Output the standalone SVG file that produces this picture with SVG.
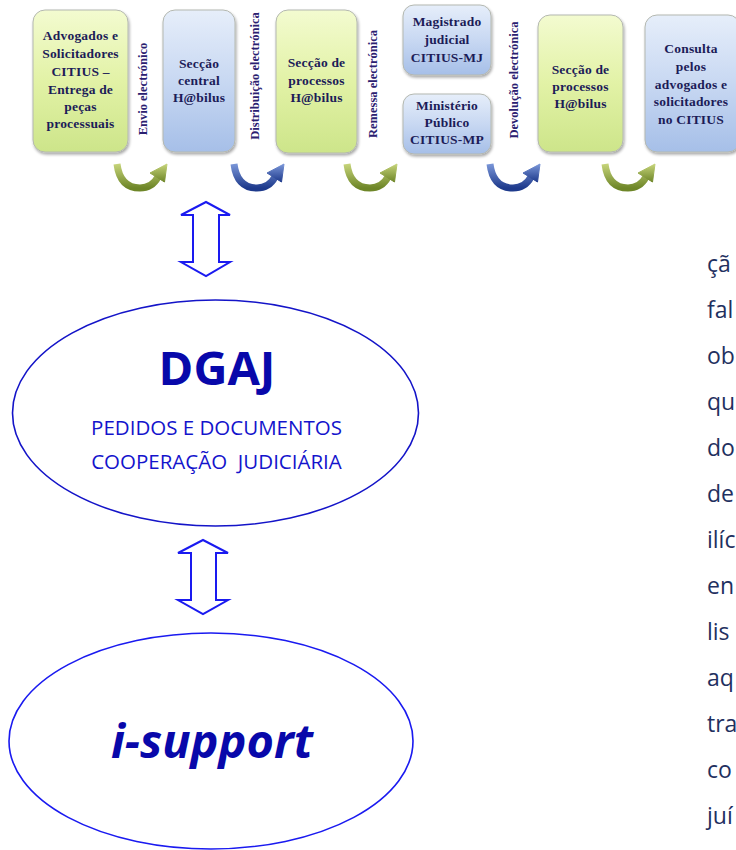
<svg xmlns="http://www.w3.org/2000/svg" width="736" height="850" viewBox="0 0 736 850">
<defs>
  <linearGradient id="gGreen" x1="0" y1="0" x2="0" y2="1">
    <stop offset="0" stop-color="#f3fbd0"/>
    <stop offset="0.5" stop-color="#e2f2a6"/>
    <stop offset="1" stop-color="#cde58a"/>
  </linearGradient>
  <linearGradient id="gBlue" x1="0" y1="0" x2="0" y2="1">
    <stop offset="0" stop-color="#e6eefa"/>
    <stop offset="0.5" stop-color="#c8d8f2"/>
    <stop offset="1" stop-color="#a6bfe8"/>
  </linearGradient>
  <linearGradient id="aGreen" x1="0" y1="0" x2="0" y2="1">
    <stop offset="0" stop-color="#c6d47a"/>
    <stop offset="1" stop-color="#6e8628"/>
  </linearGradient>
  <linearGradient id="aBlue" x1="0" y1="0" x2="0" y2="1">
    <stop offset="0" stop-color="#7a96d8"/>
    <stop offset="1" stop-color="#1e3a8c"/>
  </linearGradient>
  <filter id="sh" x="-20%" y="-20%" width="140%" height="140%">
    <feGaussianBlur in="SourceAlpha" stdDeviation="1.5"/>
    <feOffset dx="1" dy="2" result="o"/>
    <feComponentTransfer><feFuncA type="linear" slope="0.35"/></feComponentTransfer>
    <feMerge><feMergeNode/><feMergeNode in="SourceGraphic"/></feMerge>
  </filter>
  <g id="curv">
    <path d="M2,1 Q5,25 25,25 Q37,25 43,14" fill="none" stroke-width="7" stroke-linecap="butt"/>
    <polygon points="52,1 49.5,19 35,10"/>
  </g>
</defs>
<style>
  .box { stroke: #b4b8b0; stroke-width: 1; filter: url(#sh); }
  .bt { font-family: "Liberation Serif", "DejaVu Serif", serif; font-weight: bold; font-size: 13.5px; fill: #1c1c58; text-anchor: middle; letter-spacing: 0.2px; }
  .vt { font-family: "Liberation Serif", "DejaVu Serif", serif; font-weight: bold; font-size: 12.5px; fill: #2a2070; text-anchor: middle; }
  .ell { fill: #ffffff; stroke: #1414c8; stroke-width: 1.6; }
  .dbl { fill: #ffffff; stroke: #1a1af0; stroke-width: 2; stroke-linejoin: miter; }
  .side { font-family: "Open Sans", "Noto Sans", sans-serif; font-size: 23px; fill: #1f3060; }
  .sub { font-family: "Open Sans", "Noto Sans", sans-serif; font-size: 20.5px; fill: #1414cc; text-anchor: middle; }
</style>

<g id="box-advogados">
  <rect class="box" x="33" y="10" width="95" height="142" rx="12" fill="url(#gGreen)"/>
  <text class="bt" x="80.5" y="40">Advogados e</text>
  <text class="bt" x="80.5" y="58">Solicitadores</text>
  <text class="bt" x="80.5" y="76">CITIUS –</text>
  <text class="bt" x="80.5" y="94">Entrega de</text>
  <text class="bt" x="80.5" y="111">peças</text>
  <text class="bt" x="80.5" y="128">processuais</text>
</g>
<g id="box-seccao-central">
  <rect class="box" x="163" y="10" width="72" height="142" rx="12" fill="url(#gBlue)"/>
  <text class="bt" x="199" y="68">Secção</text>
  <text class="bt" x="199" y="85">central</text>
  <text class="bt" x="199" y="102">H@bilus</text>
</g>
<g id="box-seccao-processos-1">
  <rect class="box" x="276" y="10" width="81" height="143" rx="12" fill="url(#gGreen)"/>
  <text class="bt" x="316.5" y="67">Secção de</text>
  <text class="bt" x="316.5" y="85">processos</text>
  <text class="bt" x="316.5" y="102">H@bilus</text>
</g>
<g id="box-magistrado">
  <rect class="box" x="403" y="5" width="88" height="70" rx="11" fill="url(#gBlue)"/>
  <text class="bt" x="447" y="26">Magistrado</text>
  <text class="bt" x="447" y="44">judicial</text>
  <text class="bt" x="447" y="62">CITIUS-MJ</text>
</g>
<g id="box-ministerio">
  <rect class="box" x="403" y="94" width="88" height="60" rx="11" fill="url(#gBlue)"/>
  <text class="bt" x="447" y="110">Ministério</text>
  <text class="bt" x="447" y="127">Público</text>
  <text class="bt" x="447" y="144">CITIUS-MP</text>
</g>
<g id="box-seccao-processos-2">
  <rect class="box" x="538" y="15" width="85" height="137" rx="12" fill="url(#gGreen)"/>
  <text class="bt" x="580.5" y="74">Secção de</text>
  <text class="bt" x="580.5" y="91">processos</text>
  <text class="bt" x="580.5" y="108">H@bilus</text>
</g>
<g id="box-consulta">
  <rect class="box" x="645" y="15" width="95" height="137" rx="12" fill="url(#gBlue)"/>
  <text class="bt" x="691" y="53">Consulta</text>
  <text class="bt" x="691" y="71">pelos</text>
  <text class="bt" x="691" y="89">advogados e</text>
  <text class="bt" x="691" y="106">solicitadores</text>
  <text class="bt" x="691" y="124">no CITIUS</text>
</g>

<g id="connectors">
  <text class="vt" transform="translate(147,89) rotate(-90)">Envio electrónico</text>
  <text class="vt" transform="translate(259,76) rotate(-90)">Distribuição electrónica</text>
  <text class="vt" transform="translate(377,84) rotate(-90)">Remessa electrónica</text>
  <text class="vt" transform="translate(518,80) rotate(-90)">Devolução electrónica</text>

  <use href="#curv" x="115" y="163" fill="url(#aGreen)" stroke="url(#aGreen)"/>
  <use href="#curv" x="232" y="163" fill="url(#aBlue)" stroke="url(#aBlue)"/>
  <use href="#curv" x="345" y="163" fill="url(#aGreen)" stroke="url(#aGreen)"/>
  <use href="#curv" x="488" y="163" fill="url(#aBlue)" stroke="url(#aBlue)"/>
  <use href="#curv" x="603" y="163" fill="url(#aGreen)" stroke="url(#aGreen)"/>

  <polygon class="dbl" points="206,202 230,215 219,215 219,262 230,262 206,276 181,262 193,262 193,215 181,215"/>
  <polygon class="dbl" points="203,540 228,553 216,553 216,600 228,600 203,614 178,600 191,600 191,553 178,553"/>
</g>

<g id="node-dgaj">
  <ellipse class="ell" cx="215.5" cy="413" rx="203" ry="113"/>
  <text x="217" y="385" font-family="Open Sans, Noto Sans, sans-serif" font-weight="bold" font-size="47" fill="#0808aa" text-anchor="middle">DGAJ</text>
  <text class="sub" x="216.5" y="435">PEDIDOS E DOCUMENTOS</text>
  <text class="sub" x="216.5" y="469" xml:space="preserve">COOPERAÇÃO  JUDICIÁRIA</text>
</g>

<g id="node-isupport">
  <ellipse cx="211" cy="741" rx="202" ry="108" fill="#ffffff" stroke="#1a1af0" stroke-width="1.6"/>
  <text x="212" y="758" font-family="Open Sans, Noto Sans, sans-serif" font-weight="bold" font-style="italic" font-size="47" fill="#0808aa" text-anchor="middle">i-support</text>
</g>

<g id="side-text">
  <text class="side" x="707" y="272">çã</text>
  <text class="side" x="707" y="318">fal</text>
  <text class="side" x="707" y="364">ob</text>
  <text class="side" x="707" y="410">qu</text>
  <text class="side" x="707" y="456">do</text>
  <text class="side" x="707" y="502">de</text>
  <text class="side" x="707" y="548">ilíc</text>
  <text class="side" x="707" y="594">en</text>
  <text class="side" x="707" y="640">lis</text>
  <text class="side" x="707" y="686">aq</text>
  <text class="side" x="707" y="732">tra</text>
  <text class="side" x="707" y="778">co</text>
  <text class="side" x="707" y="824">juí</text>
</g>
</svg>
